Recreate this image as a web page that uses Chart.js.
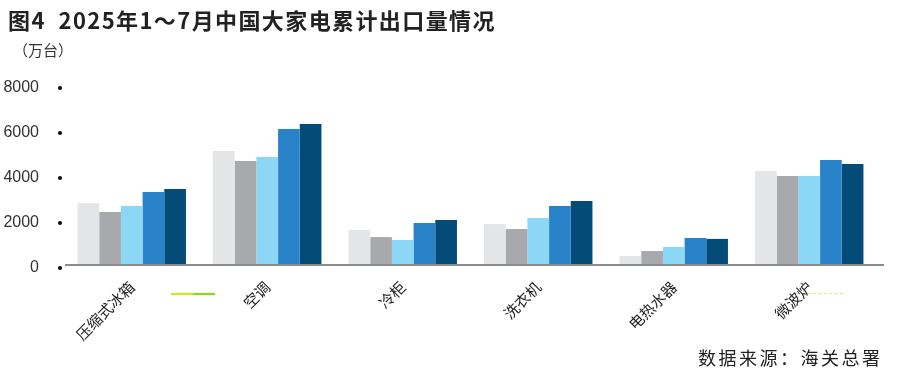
<!DOCTYPE html>
<html>
<head>
<meta charset="utf-8">
<script src="https://cdn.jsdelivr.net/npm/chart.js@4.4.1/dist/chart.umd.min.js"></script>
<style>
    html, body { margin: 0; padding: 0; background: #fff; }
    #wrap { position: relative; width: 902px; height: 374px; overflow: hidden; }
    #chart { position: absolute; left: 0; top: 0; }
    .title { position: absolute; left: 8px; top: 3px; font: bold 22px "Noto Sans CJK SC", sans-serif; color: #222; letter-spacing: 1.4px; white-space: nowrap; }
    .unit { position: absolute; left: 13px; top: 39px; font: 15px "Noto Sans CJK SC", sans-serif; color: #333; white-space: nowrap; }
    .source { position: absolute; left: 698px; top: 344px; font: 18px "Noto Sans CJK SC", sans-serif; color: #222; letter-spacing: 2.5px; white-space: nowrap; }
    .mark1 { position: absolute; left: 171px; top: 293px; width: 22px; height: 2px; background: #c8f000; }
    .mark2 { position: absolute; left: 193px; top: 293px; width: 22px; height: 2px; background: #7ee600; }
    .mark3 { position: absolute; left: 808px; top: 293px; width: 35px; height: 0; border-top: 1px dashed #e2ef70; }
</style>
</head>
<body>
<div id="wrap">
    <canvas id="chart" width="902" height="374"></canvas>
    <div class="title">图4&nbsp;&nbsp;2025年1～7月中国大家电累计出口量情况</div>
    <div class="unit">（万台）</div>
    <div class="mark1"></div>
    <div class="mark2"></div>
    <div class="mark3"></div>
    <div class="source">数据来源：海关总署</div>
</div>
<script>
const categories = ['压缩式冰箱', '空调', '冷柜', '洗衣机', '电热水器', '微波炉'];
const seriesNames = ['2021年1～7月', '2022年1～7月', '2023年1～7月', '2024年1～7月', '2025年1～7月'];
const values2021 = [2740, 5070, 1560, 1820, 400, 4180];
const values2022 = [2360, 4620, 1240, 1600, 620, 3960];
const values2023 = [2620, 4800, 1110, 2090, 800, 3960];
const values2024 = [3240, 6040, 1870, 2620, 1200, 4670];
const values2025 = [3380, 6270, 2000, 2840, 1160, 4490];
const yTicks = [0, 2000, 4000, 6000, 8000];
const colors = ['#e4e5e7', '#a8a9ac', '#8dd7f6', '#2782c8', '#044c77'];

const allValues = [values2021, values2022, values2023, values2024, values2025];

const datasets = allValues.map((vals, i) => ({
    label: seriesNames[i],
    data: vals,
    backgroundColor: colors[i],
    borderWidth: 0,
    barPercentage: 1.0,
    categoryPercentage: 0.8
}));

// dots next to the y labels, and the baseline running a bit past the plot
const axisExtras = {
    id: 'axisExtras',
    afterDraw(chart) {
        const ctx = chart.ctx;
        const y = chart.scales.y;
        const area = chart.chartArea;
        ctx.save();
        ctx.fillStyle = '#111';
        for (const t of yTicks) {
            ctx.beginPath();
            ctx.arc(60, y.getPixelForValue(t) + 3, 2.1, 0, Math.PI * 2);
            ctx.fill();
        }
        ctx.strokeStyle = '#8c8c8c';
        ctx.lineWidth = 2;
        ctx.beginPath();
        ctx.moveTo(area.left + 1, area.bottom);
        ctx.lineTo(area.right + 7, area.bottom);
        ctx.stroke();
        ctx.restore();
    }
};

new Chart(document.getElementById('chart'), {
    type: 'bar',
    data: { labels: categories, datasets },
    options: {
        responsive: false,
        animation: false,
        layout: { padding: { left: 0, right: 25, top: 85, bottom: 0 } },
        plugins: {
            legend: { display: false },
            tooltip: { enabled: false }
        },
        scales: {
            x: {
                grid: { display: false },
                border: { display: false },
                ticks: {
                    minRotation: 45,
                    maxRotation: 45,
                    color: '#222',
                    padding: 5,
                    font: { family: '"Noto Sans CJK SC", sans-serif', size: 15 }
                },
                afterFit(scale) { scale.height = 109; }
            },
            y: {
                min: 0,
                max: 8000,
                afterBuildTicks(scale) { scale.ticks = yTicks.map(v => ({ value: v })); },
                grid: { display: false },
                border: { display: false },
                ticks: {
                    color: '#333',
                    padding: 17,
                    labelOffset: 3,
                    callback: v => String(v),
                    font: { family: 'Arial, "Liberation Sans", sans-serif', size: 16 }
                },
                afterFit(scale) { scale.width = 64; }
            }
        }
    },
    plugins: [axisExtras]
});
</script>
</body>
</html>
